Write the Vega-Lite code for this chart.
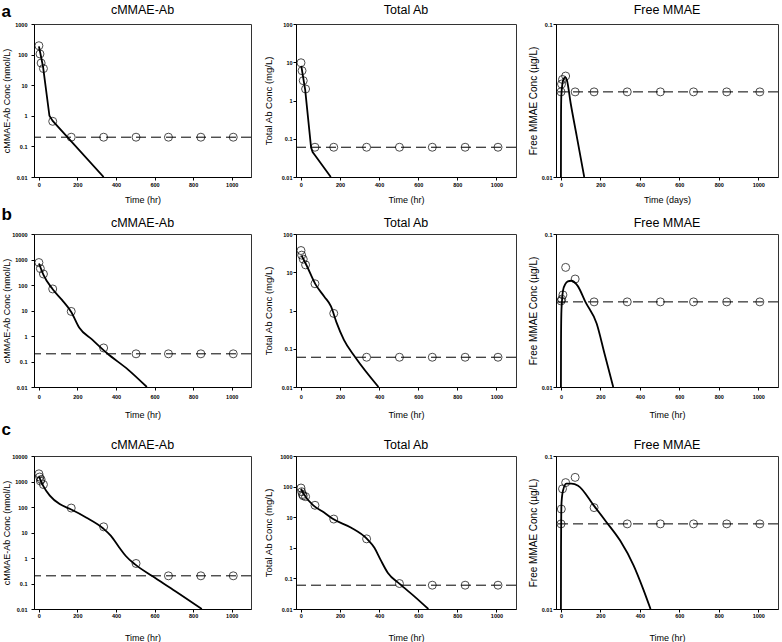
{
"$schema":"https://vega.github.io/schema/vega-lite/v6.json",
"padding":{"left":1,"top":3,"right":0,"bottom":0},
"datasets":{
"fit":[
{"p":"a1","t":0.5,"c":185},{"p":"a1","t":10,"c":95},{"p":"a1","t":22,"c":40},{"p":"a1","t":55,"c":1.0},{"p":"a1","t":72,"c":0.68},{"p":"a1","t":336,"c":0.01},
{"p":"a2","t":2,"c":8},{"p":"a2","t":22,"c":1.9},{"p":"a2","t":52,"c":0.06},{"p":"a2","t":60,"c":0.045},{"p":"a2","t":72,"c":0.037},{"p":"a2","t":153,"c":0.01},
{"p":"a3","t":0,"c":0.01},{"p":"a3","t":0.5,"c":0.025},{"p":"a3","t":2,"c":0.034},{"p":"a3","t":8,"c":0.041},{"p":"a3","t":15,"c":0.044},{"p":"a3","t":22,"c":0.045},{"p":"a3","t":30,"c":0.043},{"p":"a3","t":50,"c":0.03},{"p":"a3","t":80,"c":0.0185},{"p":"a3","t":118,"c":0.01},
{"p":"b1","t":1,"c":700},{"p":"b1","t":24,"c":250},{"p":"b1","t":72,"c":68},{"p":"b1","t":120,"c":26},{"p":"b1","t":168,"c":8.8},{"p":"b1","t":210,"c":2.1},{"p":"b1","t":277,"c":0.72},{"p":"b1","t":354,"c":0.21},{"p":"b1","t":464,"c":0.047},{"p":"b1","t":560,"c":0.01},
{"p":"b2","t":4,"c":27},{"p":"b2","t":30,"c":14.8},{"p":"b2","t":74,"c":4.9},{"p":"b2","t":120,"c":2.3},{"p":"b2","t":154,"c":1.28},{"p":"b2","t":182,"c":0.49},{"p":"b2","t":220,"c":0.17},{"p":"b2","t":278,"c":0.06},{"p":"b2","t":397,"c":0.01},
{"p":"b3","t":0,"c":0.01},{"p":"b3","t":0.5,"c":0.02},{"p":"b3","t":2,"c":0.03},{"p":"b3","t":5,"c":0.036},{"p":"b3","t":11,"c":0.043},{"p":"b3","t":22,"c":0.047},{"p":"b3","t":35,"c":0.049},{"p":"b3","t":52,"c":0.0495},{"p":"b3","t":84,"c":0.046},{"p":"b3","t":124,"c":0.036},{"p":"b3","t":181,"c":0.026},{"p":"b3","t":221,"c":0.0165},{"p":"b3","t":265,"c":0.01},
{"p":"c1","t":0.5,"c":1600},{"p":"c1","t":22,"c":690},{"p":"c1","t":57,"c":280},{"p":"c1","t":108,"c":130},{"p":"c1","t":163,"c":83},{"p":"c1","t":245,"c":39},{"p":"c1","t":334,"c":14.4},{"p":"c1","t":374,"c":7.4},{"p":"c1","t":417,"c":2.6},{"p":"c1","t":451,"c":1.2},{"p":"c1","t":499,"c":0.56},{"p":"c1","t":588,"c":0.195},{"p":"c1","t":708,"c":0.05},{"p":"c1","t":845,"c":0.01},
{"p":"c2","t":0.5,"c":85},{"p":"c2","t":14,"c":58},{"p":"c2","t":65,"c":24},{"p":"c2","t":117,"c":14.5},{"p":"c2","t":165,"c":8.7},{"p":"c2","t":255,"c":4.6},{"p":"c2","t":338,"c":1.96},{"p":"c2","t":376,"c":1.0},{"p":"c2","t":407,"c":0.41},{"p":"c2","t":445,"c":0.15},{"p":"c2","t":505,"c":0.066},{"p":"c2","t":583,"c":0.025},{"p":"c2","t":652,"c":0.01},
{"p":"c3","t":0,"c":0.01},{"p":"c3","t":0.5,"c":0.025},{"p":"c3","t":1.5,"c":0.04},{"p":"c3","t":3,"c":0.0495},{"p":"c3","t":10,"c":0.059},{"p":"c3","t":27,"c":0.066},{"p":"c3","t":53,"c":0.066},{"p":"c3","t":87,"c":0.064},{"p":"c3","t":169,"c":0.047},{"p":"c3","t":232,"c":0.0368},{"p":"c3","t":300,"c":0.028},{"p":"c3","t":368,"c":0.0193},{"p":"c3","t":416,"c":0.0136},{"p":"c3","t":454,"c":0.01}
],
"obs":[
{"p":"a1","t":0.5,"c":195},{"p":"a1","t":6,"c":105},{"p":"a1","t":12,"c":53},{"p":"a1","t":24,"c":35},{"p":"a1","t":72,"c":0.66},{"p":"a1","t":168,"c":0.2},{"p":"a1","t":336,"c":0.2},{"p":"a1","t":504,"c":0.2},{"p":"a1","t":672,"c":0.2},{"p":"a1","t":840,"c":0.2},{"p":"a1","t":1008,"c":0.2},
{"p":"a2","t":0.5,"c":9.7},{"p":"a2","t":6,"c":6},{"p":"a2","t":12,"c":3.3},{"p":"a2","t":24,"c":2.0},{"p":"a2","t":72,"c":0.06},{"p":"a2","t":168,"c":0.06},{"p":"a2","t":336,"c":0.06},{"p":"a2","t":504,"c":0.06},{"p":"a2","t":672,"c":0.06},{"p":"a2","t":840,"c":0.06},{"p":"a2","t":1008,"c":0.06},
{"p":"a3","t":0.5,"c":0.036},{"p":"a3","t":3,"c":0.0405},{"p":"a3","t":8,"c":0.0434},{"p":"a3","t":24,"c":0.0457},{"p":"a3","t":72,"c":0.036},{"p":"a3","t":168,"c":0.036},{"p":"a3","t":336,"c":0.036},{"p":"a3","t":504,"c":0.036},{"p":"a3","t":672,"c":0.036},{"p":"a3","t":840,"c":0.036},{"p":"a3","t":1008,"c":0.036},
{"p":"b1","t":0.5,"c":760},{"p":"b1","t":8,"c":440},{"p":"b1","t":24,"c":270},{"p":"b1","t":72,"c":70},{"p":"b1","t":168,"c":9.2},{"p":"b1","t":336,"c":0.34},{"p":"b1","t":504,"c":0.2},{"p":"b1","t":672,"c":0.2},{"p":"b1","t":840,"c":0.2},{"p":"b1","t":1008,"c":0.2},
{"p":"b2","t":0.5,"c":37},{"p":"b2","t":4,"c":28},{"p":"b2","t":12,"c":22},{"p":"b2","t":24,"c":15.6},{"p":"b2","t":72,"c":5.0},{"p":"b2","t":168,"c":0.84},{"p":"b2","t":336,"c":0.06},{"p":"b2","t":504,"c":0.06},{"p":"b2","t":672,"c":0.06},{"p":"b2","t":840,"c":0.06},{"p":"b2","t":1008,"c":0.06},
{"p":"b3","t":0.5,"c":0.0365},{"p":"b3","t":4,"c":0.0375},{"p":"b3","t":10,"c":0.04},{"p":"b3","t":24,"c":0.0605},{"p":"b3","t":72,"c":0.0508},{"p":"b3","t":168,"c":0.036},{"p":"b3","t":336,"c":0.036},{"p":"b3","t":504,"c":0.036},{"p":"b3","t":672,"c":0.036},{"p":"b3","t":840,"c":0.036},{"p":"b3","t":1008,"c":0.036},
{"p":"c1","t":0.5,"c":2000},{"p":"c1","t":4,"c":1500},{"p":"c1","t":8,"c":1050},{"p":"c1","t":12,"c":1200},{"p":"c1","t":24,"c":760},{"p":"c1","t":168,"c":91},{"p":"c1","t":336,"c":16.7},{"p":"c1","t":504,"c":0.61},{"p":"c1","t":672,"c":0.2},{"p":"c1","t":840,"c":0.2},{"p":"c1","t":1008,"c":0.2},
{"p":"c2","t":0.5,"c":90},{"p":"c2","t":4,"c":68},{"p":"c2","t":8,"c":55},{"p":"c2","t":12,"c":50},{"p":"c2","t":24,"c":47},{"p":"c2","t":72,"c":24.5},{"p":"c2","t":168,"c":8.7},{"p":"c2","t":336,"c":1.96},{"p":"c2","t":504,"c":0.068},{"p":"c2","t":672,"c":0.06},{"p":"c2","t":840,"c":0.06},{"p":"c2","t":1008,"c":0.06},
{"p":"c3","t":0.5,"c":0.036},{"p":"c3","t":2,"c":0.045},{"p":"c3","t":8,"c":0.061},{"p":"c3","t":24,"c":0.067},{"p":"c3","t":72,"c":0.0725},{"p":"c3","t":168,"c":0.046},{"p":"c3","t":336,"c":0.036},{"p":"c3","t":504,"c":0.036},{"p":"c3","t":672,"c":0.036},{"p":"c3","t":840,"c":0.036},{"p":"c3","t":1008,"c":0.036}
]
},
"spacing":1,
"vconcat":[
{"title":{"text":"a","anchor":"start","frame":"bounds","fontSize":17,"fontWeight":"bold","offset":0,"dy":18},
 "spacing":10,
 "hconcat":[
  {"width":217,"height":153,"title":{"text":"cMMAE-Ab","offset":6},
   "layer":[
    {"data":{"name":"fit"},"transform":[{"filter":"datum.p==='a1'"}],"mark":{"type":"line","color":"#000","strokeWidth":1.8,"interpolate":"linear","clip":true},
     "encoding":{"x":{"field":"t","type":"quantitative","scale":{"domain":[-25,1100],"nice":false,"zero":false},"axis":{"title":"Time (hr)","values":[0,200,400,600,800,1000],"format":"d","labelPadding":2,"titlePadding":8}},
      "y":{"field":"c","type":"quantitative","scale":{"type":"log","domain":[0.01,1000],"nice":false},"axis":{"title":"cMMAE-Ab Conc (nmol/L)","values":[0.01,0.1,1,10,100,1000],"format":"~g","minExtent":22,"maxExtent":22,"labelPadding":4,"titlePadding":1,"titleFontSize":9}},
      "order":{"field":"t"}}},
    {"data":{"values":[{"lloq":0.2}]},"mark":{"type":"rule","color":"#000","strokeWidth":1,"strokeDash":[10,5]},"encoding":{"y":{"field":"lloq","type":"quantitative"}}},
    {"data":{"name":"obs"},"transform":[{"filter":"datum.p==='a1'"}],"mark":{"type":"point","shape":"circle","filled":false,"color":"#000","size":64,"strokeWidth":1},
     "encoding":{"x":{"field":"t","type":"quantitative"},"y":{"field":"c","type":"quantitative"}}}
   ]},
  {"width":220,"height":153,"title":{"text":"Total Ab","offset":6},
   "layer":[
    {"data":{"name":"fit"},"transform":[{"filter":"datum.p==='a2'"}],"mark":{"type":"line","color":"#000","strokeWidth":1.8,"interpolate":"linear","clip":true},
     "encoding":{"x":{"field":"t","type":"quantitative","scale":{"domain":[-25,1100],"nice":false,"zero":false},"axis":{"title":"Time (hr)","values":[0,200,400,600,800,1000],"format":"d","labelPadding":2,"titlePadding":8}},
      "y":{"field":"c","type":"quantitative","scale":{"type":"log","domain":[0.01,100],"nice":false},"axis":{"title":"Total Ab Conc (mg/L)","values":[0.01,0.1,1,10,100],"format":"~g","minExtent":20,"maxExtent":20,"labelPadding":1,"titlePadding":3,"titleFontSize":9.5}},
      "order":{"field":"t"}}},
    {"data":{"values":[{"lloq":0.06}]},"mark":{"type":"rule","color":"#000","strokeWidth":1,"strokeDash":[10,5]},"encoding":{"y":{"field":"lloq","type":"quantitative"}}},
    {"data":{"name":"obs"},"transform":[{"filter":"datum.p==='a2'"}],"mark":{"type":"point","shape":"circle","filled":false,"color":"#000","size":64,"strokeWidth":1},
     "encoding":{"x":{"field":"t","type":"quantitative"},"y":{"field":"c","type":"quantitative"}}}
   ]},
  {"width":222,"height":153,"title":{"text":"Free MMAE","offset":6},
   "layer":[
    {"data":{"name":"fit"},"transform":[{"filter":"datum.p==='a3'"}],"mark":{"type":"line","color":"#000","strokeWidth":1.8,"interpolate":"monotone","clip":true},
     "encoding":{"x":{"field":"t","type":"quantitative","scale":{"domain":[-25,1100],"nice":false,"zero":false},"axis":{"title":"Time (days)","values":[0,200,400,600,800,1000],"format":"d","labelPadding":2,"titlePadding":8}},
      "y":{"field":"c","type":"quantitative","scale":{"type":"log","domain":[0.01,0.1],"nice":false},"axis":{"title":"Free MMAE Conc (µg/L)","values":[0.01,0.1],"format":"~g","minExtent":16,"maxExtent":16,"labelPadding":1,"titlePadding":2,"titleFontSize":10}},
      "order":{"field":"t"}}},
    {"data":{"values":[{"lloq":0.036}]},"mark":{"type":"rule","color":"#000","strokeWidth":1,"strokeDash":[10,5]},"encoding":{"y":{"field":"lloq","type":"quantitative"}}},
    {"data":{"name":"obs"},"transform":[{"filter":"datum.p==='a3'"}],"mark":{"type":"point","shape":"circle","filled":false,"color":"#000","size":64,"strokeWidth":1},
     "encoding":{"x":{"field":"t","type":"quantitative"},"y":{"field":"c","type":"quantitative"}}}
   ]}
 ]},
{"title":{"text":"b","anchor":"start","frame":"bounds","fontSize":17,"fontWeight":"bold","offset":0,"dy":8},
 "spacing":10,
 "hconcat":[
  {"width":217,"height":153,"title":{"text":"cMMAE-Ab","offset":3},
   "layer":[
    {"data":{"name":"fit"},"transform":[{"filter":"datum.p==='b1'"}],"mark":{"type":"line","color":"#000","strokeWidth":1.8,"interpolate":"monotone","clip":true},
     "encoding":{"x":{"field":"t","type":"quantitative","scale":{"domain":[-25,1100],"nice":false,"zero":false},"axis":{"title":"Time (hr)","values":[0,200,400,600,800,1000],"format":"d","labelPadding":4,"titlePadding":11}},
      "y":{"field":"c","type":"quantitative","scale":{"type":"log","domain":[0.01,10000],"nice":false},"axis":{"title":"cMMAE-Ab Conc (nmol/L)","values":[0.01,0.1,1,10,100,1000,10000],"format":"~g","minExtent":22,"maxExtent":22,"labelPadding":4,"titlePadding":1,"titleFontSize":9}},
      "order":{"field":"t"}}},
    {"data":{"values":[{"lloq":0.2}]},"mark":{"type":"rule","color":"#000","strokeWidth":1,"strokeDash":[10,5]},"encoding":{"y":{"field":"lloq","type":"quantitative"}}},
    {"data":{"name":"obs"},"transform":[{"filter":"datum.p==='b1'"}],"mark":{"type":"point","shape":"circle","filled":false,"color":"#000","size":64,"strokeWidth":1},
     "encoding":{"x":{"field":"t","type":"quantitative"},"y":{"field":"c","type":"quantitative"}}}
   ]},
  {"width":220,"height":153,"title":{"text":"Total Ab","offset":3},
   "layer":[
    {"data":{"name":"fit"},"transform":[{"filter":"datum.p==='b2'"}],"mark":{"type":"line","color":"#000","strokeWidth":1.8,"interpolate":"monotone","clip":true},
     "encoding":{"x":{"field":"t","type":"quantitative","scale":{"domain":[-25,1100],"nice":false,"zero":false},"axis":{"title":"Time (hr)","values":[0,200,400,600,800,1000],"format":"d","labelPadding":4,"titlePadding":11}},
      "y":{"field":"c","type":"quantitative","scale":{"type":"log","domain":[0.01,100],"nice":false},"axis":{"title":"Total Ab Conc (mg/L)","values":[0.01,0.1,1,10,100],"format":"~g","minExtent":20,"maxExtent":20,"labelPadding":1,"titlePadding":3,"titleFontSize":9.5}},
      "order":{"field":"t"}}},
    {"data":{"values":[{"lloq":0.06}]},"mark":{"type":"rule","color":"#000","strokeWidth":1,"strokeDash":[10,5]},"encoding":{"y":{"field":"lloq","type":"quantitative"}}},
    {"data":{"name":"obs"},"transform":[{"filter":"datum.p==='b2'"}],"mark":{"type":"point","shape":"circle","filled":false,"color":"#000","size":64,"strokeWidth":1},
     "encoding":{"x":{"field":"t","type":"quantitative"},"y":{"field":"c","type":"quantitative"}}}
   ]},
  {"width":222,"height":153,"title":{"text":"Free MMAE","offset":3},
   "layer":[
    {"data":{"name":"fit"},"transform":[{"filter":"datum.p==='b3'"}],"mark":{"type":"line","color":"#000","strokeWidth":1.8,"interpolate":"monotone","clip":true},
     "encoding":{"x":{"field":"t","type":"quantitative","scale":{"domain":[-25,1100],"nice":false,"zero":false},"axis":{"title":"Time (hr)","values":[0,200,400,600,800,1000],"format":"d","labelPadding":4,"titlePadding":11}},
      "y":{"field":"c","type":"quantitative","scale":{"type":"log","domain":[0.01,0.1],"nice":false},"axis":{"title":"Free MMAE Conc (µg/L)","values":[0.01,0.1],"format":"~g","minExtent":16,"maxExtent":16,"labelPadding":1,"titlePadding":2,"titleFontSize":10}},
      "order":{"field":"t"}}},
    {"data":{"values":[{"lloq":0.036}]},"mark":{"type":"rule","color":"#000","strokeWidth":1,"strokeDash":[10,5]},"encoding":{"y":{"field":"lloq","type":"quantitative"}}},
    {"data":{"name":"obs"},"transform":[{"filter":"datum.p==='b3'"}],"mark":{"type":"point","shape":"circle","filled":false,"color":"#000","size":64,"strokeWidth":1},
     "encoding":{"x":{"field":"t","type":"quantitative"},"y":{"field":"c","type":"quantitative"}}}
   ]}
 ]},
{"title":{"text":"c","anchor":"start","frame":"bounds","fontSize":17,"fontWeight":"bold","offset":0,"dy":1},
 "spacing":10,
 "hconcat":[
  {"width":217,"height":153,"title":{"text":"cMMAE-Ab","offset":3},
   "layer":[
    {"data":{"name":"fit"},"transform":[{"filter":"datum.p==='c1'"}],"mark":{"type":"line","color":"#000","strokeWidth":1.8,"interpolate":"monotone","clip":true},
     "encoding":{"x":{"field":"t","type":"quantitative","scale":{"domain":[-25,1100],"nice":false,"zero":false},"axis":{"title":"Time (hr)","values":[0,200,400,600,800,1000],"format":"d","labelPadding":1,"titlePadding":15}},
      "y":{"field":"c","type":"quantitative","scale":{"type":"log","domain":[0.01,10000],"nice":false},"axis":{"title":"cMMAE-Ab Conc (nmol/L)","values":[0.01,0.1,1,10,100,1000,10000],"format":"~g","minExtent":22,"maxExtent":22,"labelPadding":4,"titlePadding":1,"titleFontSize":9}},
      "order":{"field":"t"}}},
    {"data":{"values":[{"lloq":0.2}]},"mark":{"type":"rule","color":"#000","strokeWidth":1,"strokeDash":[10,5]},"encoding":{"y":{"field":"lloq","type":"quantitative"}}},
    {"data":{"name":"obs"},"transform":[{"filter":"datum.p==='c1'"}],"mark":{"type":"point","shape":"circle","filled":false,"color":"#000","size":64,"strokeWidth":1},
     "encoding":{"x":{"field":"t","type":"quantitative"},"y":{"field":"c","type":"quantitative"}}}
   ]},
  {"width":220,"height":153,"title":{"text":"Total Ab","offset":3},
   "layer":[
    {"data":{"name":"fit"},"transform":[{"filter":"datum.p==='c2'"}],"mark":{"type":"line","color":"#000","strokeWidth":1.8,"interpolate":"monotone","clip":true},
     "encoding":{"x":{"field":"t","type":"quantitative","scale":{"domain":[-25,1100],"nice":false,"zero":false},"axis":{"title":"Time (hr)","values":[0,200,400,600,800,1000],"format":"d","labelPadding":1,"titlePadding":15}},
      "y":{"field":"c","type":"quantitative","scale":{"type":"log","domain":[0.01,1000],"nice":false},"axis":{"title":"Total Ab Conc (mg/L)","values":[0.01,0.1,1,10,100,1000],"format":"~g","minExtent":20,"maxExtent":20,"labelPadding":1,"titlePadding":3,"titleFontSize":9.5}},
      "order":{"field":"t"}}},
    {"data":{"values":[{"lloq":0.06}]},"mark":{"type":"rule","color":"#000","strokeWidth":1,"strokeDash":[10,5]},"encoding":{"y":{"field":"lloq","type":"quantitative"}}},
    {"data":{"name":"obs"},"transform":[{"filter":"datum.p==='c2'"}],"mark":{"type":"point","shape":"circle","filled":false,"color":"#000","size":64,"strokeWidth":1},
     "encoding":{"x":{"field":"t","type":"quantitative"},"y":{"field":"c","type":"quantitative"}}}
   ]},
  {"width":222,"height":153,"title":{"text":"Free MMAE","offset":3},
   "layer":[
    {"data":{"name":"fit"},"transform":[{"filter":"datum.p==='c3'"}],"mark":{"type":"line","color":"#000","strokeWidth":1.8,"interpolate":"monotone","clip":true},
     "encoding":{"x":{"field":"t","type":"quantitative","scale":{"domain":[-25,1100],"nice":false,"zero":false},"axis":{"title":"Time (hr)","values":[0,200,400,600,800,1000],"format":"d","labelPadding":1,"titlePadding":15}},
      "y":{"field":"c","type":"quantitative","scale":{"type":"log","domain":[0.01,0.1],"nice":false},"axis":{"title":"Free MMAE Conc (µg/L)","values":[0.01,0.1],"format":"~g","minExtent":16,"maxExtent":16,"labelPadding":1,"titlePadding":2,"titleFontSize":10}},
      "order":{"field":"t"}}},
    {"data":{"values":[{"lloq":0.036}]},"mark":{"type":"rule","color":"#000","strokeWidth":1,"strokeDash":[10,5]},"encoding":{"y":{"field":"lloq","type":"quantitative"}}},
    {"data":{"name":"obs"},"transform":[{"filter":"datum.p==='c3'"}],"mark":{"type":"point","shape":"circle","filled":false,"color":"#000","size":64,"strokeWidth":1},
     "encoding":{"x":{"field":"t","type":"quantitative"},"y":{"field":"c","type":"quantitative"}}}
   ]}
 ]}
],
"config":{
 "font":"Liberation Sans",
 "view":{"stroke":"#333","strokeWidth":1},
 "axis":{"grid":false,"domainColor":"#000","tickColor":"#000","tickSize":3,"labelFontSize":5.5,"labelFontWeight":"bold","labelColor":"#000","titleFontSize":9,"titleFontWeight":"normal","titleColor":"#000","labelFlush":false,"labelOverlap":false},
 "title":{"fontSize":12.5,"fontWeight":"normal","color":"#000","baseline":"alphabetic"}
}
}
